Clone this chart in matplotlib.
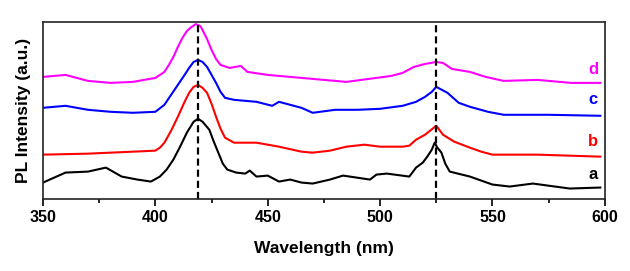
import numpy as np
import matplotlib
matplotlib.use('Agg')
from matplotlib import pyplot as plt
from matplotlib.ticker import MultipleLocator

plt.rcParams['font.family'] = ['Liberation Sans', 'DejaVu Sans']
plt.rcParams['font.weight'] = 'bold'

# 光谱数据（任意单位，已含纵向偏移）
wl_a = [350, 355, 360, 370, 378, 385, 392, 398, 402, 405, 408, 411, 414, 417, 419, 421, 424,
        426, 428, 430, 432, 436, 440, 442, 445, 450, 455, 460, 465, 470, 477.7, 483.5, 495.5,
        498.4, 503, 513, 516, 519, 521, 523, 524.3, 525.5, 527.3, 529, 531, 540, 550, 557.7,
        568, 584.4, 598]
pl_a = [16, 21, 26, 27, 31, 22, 19, 17, 22, 29, 39, 52, 66, 77, 80, 77, 69,
        57, 46, 35, 29, 26, 25, 28, 22, 23, 17, 19, 16, 15, 19, 23, 19,
        24, 25, 22, 31, 36, 42, 49, 56, 51, 46, 35, 27, 22, 14, 12,
        15, 10, 11]

wl_b = [350, 370, 390, 400, 402, 404, 407, 410, 413, 415, 417, 419, 421, 423, 425, 427,
        429, 431, 435, 445, 455, 465, 470, 477.7, 485, 493, 500, 510, 513, 516, 520, 525,
        528, 533, 540, 545, 550, 570, 598]
pl_b = [44, 45, 47, 48, 51, 56, 68, 82, 97, 106, 112, 114, 111, 106, 95, 82,
        70, 61, 56, 56, 52, 47, 46, 48, 52, 54, 52, 52, 53, 59, 64, 73,
        64, 57, 51, 47, 44, 44, 42]

wl_c = [350, 360, 370, 380, 390, 400, 404, 407, 410, 413, 415, 417, 419, 421, 423, 425, 427,
        429, 431, 435, 445, 452, 455, 465, 470, 480, 490, 500, 510, 516, 520, 523, 525, 530,
        535, 540, 548, 555, 575, 598]
pl_c = [91, 93, 89, 87, 86, 87, 94, 104, 114, 124, 131, 137, 139, 137, 132, 124, 116,
        107, 101, 99, 97, 93, 97, 91, 86, 89, 89, 90, 93, 97, 102, 107, 112, 106,
        96, 92, 87, 84, 84, 83]

wl_d = [350, 360, 370, 380, 390, 400, 404, 406, 408, 410, 412, 414, 416, 418, 420, 421, 423,
        425, 427, 429, 433, 438, 441, 450, 460, 470, 485, 495, 505, 510, 515, 520, 525, 528,
        532, 540, 547, 555, 570, 585, 598]
pl_d = [122, 124, 118, 116, 117, 121, 127, 134, 142, 152, 161, 168, 172, 175, 173, 169, 160,
        149, 140, 134, 131, 133, 127, 124, 122, 120, 117, 120, 123, 126, 132, 135, 137, 136,
        130, 127, 122, 118, 119, 116, 116]

series = [('a', wl_a, pl_a, 'black'),
          ('b', wl_b, pl_b, '#ff0000'),
          ('c', wl_c, pl_c, '#0000ff'),
          ('d', wl_d, pl_d, '#ff00ff')]
label_y = {'a': 24, 'b': 57, 'c': 99, 'd': 129}
peak_lines = [419, 525]

fig = plt.figure(figsize=(6.3, 2.71), dpi=100)
ax = fig.add_axes([0.0683, 0.2675, 0.8917, 0.651])

for name, x, y, color in series:
    ax.plot(x, y, color=color, lw=1.5)
    ax.text(597, label_y[name], name, color=color, fontsize=12, fontweight='bold',
            ha='right', va='center')

for xv in peak_lines:
    ax.axvline(xv, color='black', lw=1.6, ls=(0, (3.2, 1.8)))

ax.set_xlim(350, 600)
ax.set_ylim(0, 177)
ax.xaxis.set_major_locator(MultipleLocator(50))
ax.xaxis.set_minor_locator(MultipleLocator(25))
ax.set_yticks([])
ax.tick_params(axis='x', which='major', length=5, width=1.2, labelsize=11.5, pad=3)
ax.tick_params(axis='x', which='minor', length=3, width=1.2)
for lbl in ax.get_xticklabels():
    lbl.set_fontweight('bold')
for sp in ax.spines.values():
    sp.set_linewidth(1.2)
    sp.set_color('#222222')

ax.set_xlabel('Wavelength (nm)', fontsize=12.5, fontweight='bold', labelpad=12)
ax.set_ylabel('PL Intensity (a.u.)', fontsize=12.5, fontweight='bold', labelpad=9)

plt.savefig('out.png', dpi=100)
